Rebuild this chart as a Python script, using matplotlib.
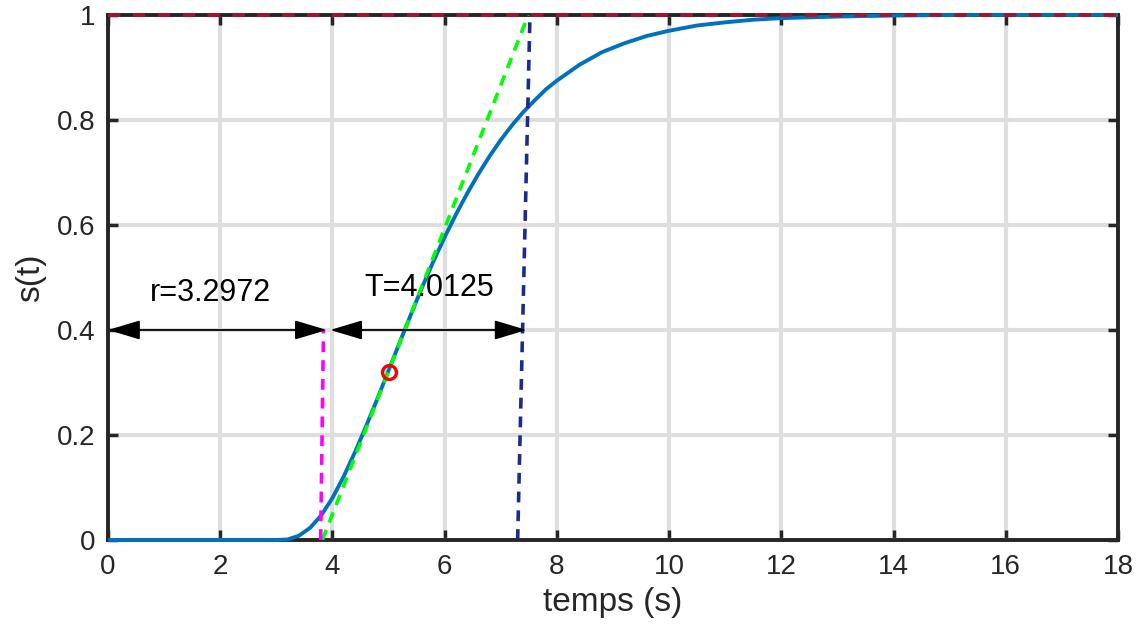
import numpy as np
import matplotlib
matplotlib.use("Agg")
from matplotlib import pyplot as plt

plt.rcParams['font.family'] = ['Liberation Sans', 'DejaVu Sans']

# reponse indicielle
t = [0, 3.0, 3.2, 3.4, 3.6, 3.8, 4.0, 4.2, 4.4, 4.6, 4.8, 5.0, 5.2, 5.4, 5.6,
     5.8, 6.0, 6.2, 6.4, 6.6, 6.8, 7.0, 7.2, 7.4, 7.6, 7.8, 8.0, 8.4, 8.8,
     9.2, 9.6, 10.0, 10.5, 11.0, 11.5, 12.0, 13.0, 14.0, 15.0, 16.0, 18.0]
s = [0, 0, 0.001, 0.008, 0.023, 0.047, 0.080, 0.121, 0.167, 0.217, 0.269,
     0.323, 0.377, 0.430, 0.482, 0.531, 0.577, 0.620, 0.660, 0.697, 0.731,
     0.762, 0.790, 0.815, 0.837, 0.858, 0.875, 0.905, 0.929, 0.946, 0.960,
     0.970, 0.980, 0.986, 0.991, 0.994, 0.997, 0.999, 1.0, 1.0, 1.0]

# tangente au point d'inflexion, droites de construction
tangente_x = [3.82, 7.49]
tangente_y = [0, 1]
retard_x = [3.79, 3.84]
retard_y = [0, 0.4]
fin_x = [7.30, 7.52]
fin_y = [0, 1]
point_x = [5.0]
point_y = [0.32]
asympt_x = [0, 18]
asympt_y = [1, 1]

r_label = "r=3.2972"
T_label = "T=4.0125"
fleche_r = (0, 3.9)
fleche_T = (3.96, 7.46)
fleche_y = 0.4

xticks = np.arange(0, 19, 2)
yticks = [0, 0.2, 0.4, 0.6, 0.8, 1]
ytick_labels = ["0", "0.2", "0.4", "0.6", "0.8", "1"]

fig = plt.figure(figsize=(11.42, 6.32), dpi=100)
ax = fig.add_axes([0.0946, 0.1456, 0.8844, 0.8307])

ax.plot(t, s, color='#0072bd', lw=2.8, zorder=3, clip_on=False, solid_capstyle='butt')
ax.plot(tangente_x, tangente_y, color='#00ff00', lw=2.6, dashes=(3, 2.2), zorder=4)
ax.plot(retard_x, retard_y, color='#ff00ff', lw=2.6, dashes=(3, 2.2), zorder=4)
ax.plot(fin_x, fin_y, color='#1c2c8c', lw=2.6, dashes=(3, 2.2), zorder=4)
ax.plot(asympt_x, asympt_y, color='#a2142f', lw=2.8, dashes=(3.2, 3.2), zorder=5, clip_on=False)
ax.plot(point_x, point_y, 'o', mfc='none', mec='red', mew=2.4, ms=10, zorder=6)

def fleche(x0, x1, y):
    ax.annotate('', xy=(x0, y), xytext=(x1, y),
                arrowprops=dict(arrowstyle='<|-|>,head_length=1.0,head_width=0.3',
                                color='black', lw=1.3, shrinkA=0, shrinkB=0,
                                mutation_scale=20),
                zorder=7)

fleche(fleche_r[0], fleche_r[1], fleche_y)
fleche(fleche_T[0], fleche_T[1], fleche_y)
ax.text(1.82, 0.47, r_label, fontsize=22, ha='center', va='center', zorder=7)
ax.text(5.72, 0.48, T_label, fontsize=22, ha='center', va='center', zorder=7)

ax.set_xlim(0, 18)
ax.set_ylim(0, 1)
ax.set_xticks(xticks)
ax.set_yticks(yticks)
ax.set_yticklabels(ytick_labels)
ax.grid(True, color='#dedede', lw=3)
ax.set_axisbelow(True)
ax.tick_params(direction='in', length=7, width=2.5, top=True, right=True,
               labelsize=20, colors='#262626')
ax.tick_params(axis='x', pad=10)
ax.tick_params(axis='y', pad=9)
for sp in ax.spines.values():
    sp.set_linewidth(2.8)
    sp.set_color('#262626')
ax.set_xlabel("temps (s)", fontsize=24, color='#262626', labelpad=5)
ax.set_ylabel("s(t)", fontsize=24, color='#262626', labelpad=8)

fig.savefig("out.png", dpi=100)
